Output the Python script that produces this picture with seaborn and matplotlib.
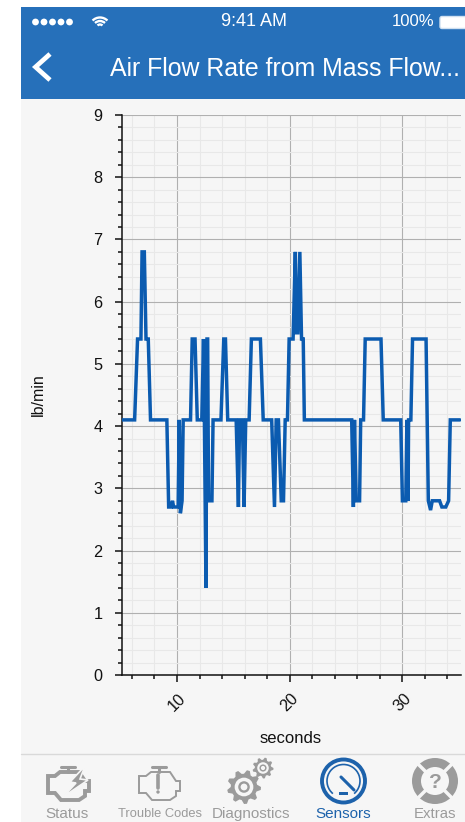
import numpy as np
import pandas as pd
import matplotlib
matplotlib.use("Agg")
import matplotlib.pyplot as plt
import seaborn as sns
from matplotlib.patches import Rectangle, Circle, Wedge, Polygon, FancyBboxPatch, Arc

# Data
seconds = [5.1, 6.24, 6.5, 6.8, 6.9, 7.1, 7.25, 7.45, 7.65, 9.1, 9.26, 9.47, 9.6, 9.7, 10.1,
           10.2, 10.3, 10.45, 10.55, 11.2, 11.35, 11.6, 11.8, 12.2, 12.35, 12.43, 12.57, 12.66,
           12.72, 12.8, 13.1, 13.2, 13.9, 14.15, 14.3, 14.5, 15.25, 15.45, 15.55, 15.8, 15.95,
           16.1, 16.4, 16.6, 17.4, 17.65, 18.4, 18.65, 18.8, 19.0, 19.25, 19.45, 19.6, 19.8,
           19.95, 20.3, 20.5, 20.6, 20.72, 20.9, 21.05, 21.2, 21.3, 25.5, 25.65, 25.75, 25.9,
           26.2, 26.3, 26.55, 26.7, 28.1, 28.3, 29.85, 30.0, 30.3, 30.4, 30.5, 30.55, 30.75,
           30.9, 32.1, 32.3, 32.5, 32.65, 33.3, 33.5, 33.85, 34.1, 34.25, 35.1]
flow_rate = [4.1, 4.1, 5.4, 5.4, 6.8, 6.8, 5.4, 5.4, 4.1, 4.1, 2.7, 2.7, 2.8, 2.7, 2.7,
             4.1, 2.6, 2.8, 4.1, 4.1, 5.4, 5.4, 4.1, 4.1, 5.4, 4.1, 1.4, 5.4,
             5.4, 2.8, 2.8, 4.1, 4.1, 5.4, 5.4, 4.1, 4.1, 2.7, 4.1, 4.1, 2.7,
             4.1, 4.1, 5.4, 5.4, 4.1, 4.1, 2.7, 4.1, 4.1, 2.8, 2.8, 4.1, 4.1,
             5.4, 5.4, 6.8, 5.5, 5.5, 6.8, 5.4, 5.4, 4.1, 4.1, 2.7, 4.1, 2.8,
             2.8, 4.1, 4.1, 5.4, 5.4, 4.1, 4.1, 2.8, 2.8, 4.1, 2.8, 4.1, 4.1,
             5.4, 5.4, 2.8, 2.65, 2.8, 2.8, 2.7, 2.7, 2.8, 4.1, 4.1]
x_ticks = [10, 20, 30]
y_ticks = [0, 1, 2, 3, 4, 5, 6, 7, 8, 9]
tab_names = ["Status", "Trouble Codes", "Diagnostics", "Sensors", "Extras"]

BG = "#f6f6f6"
HEADER = "#2670ba"
LINE = "#0b5bb0"
TAB_GRAY = "#9b9b9b"
TAB_BLUE = "#1d62ab"

W, H = 465, 822
sns.set_style("white")
plt.rcParams["font.family"] = ["Liberation Sans", "DejaVu Sans"]

fig = plt.figure(figsize=(W / 100, H / 100), dpi=100, facecolor="white")

# --------------------------------------------
# App chrome, drawn in pixel coordinates
# --------------------------------------------
ui = fig.add_axes([0, 0, 1, 1], zorder=0)
ui.set_xlim(0, W)
ui.set_ylim(H, 0)
ui.axis("off")

ui.add_patch(Rectangle((21, 7), W - 21, H - 7, color=BG, lw=0))
ui.add_patch(Rectangle((21, 7), W - 21, 92, color=HEADER, lw=0))

# status bar
for cx in [35.5, 44, 52.5, 61, 69.5]:
    ui.add_patch(Circle((cx, 22), 3.4, color="white", lw=0))
for d in [7, 14, 21]:
    ui.add_patch(Arc((100, 28), d, d, theta1=225, theta2=315, color="white", lw=1.7))
ui.text(254, 22, "9:41 AM", color="white", fontsize=13, ha="center", va="center")
ui.text(434, 22, "100%", color="white", fontsize=12, ha="right", va="center")
ui.add_patch(FancyBboxPatch((440, 16.5), 30, 12, boxstyle="round,pad=0,rounding_size=2",
                            fc="white", ec="#cfe0f0", lw=1))

# nav bar
ui.plot([50, 35.5, 50], [54, 67, 80], color="white", lw=3.4, solid_capstyle="butt",
        solid_joinstyle="miter")
ui.text(110, 68.5, "Air Flow Rate from Mass Flow...", color="white", fontsize=17.9,
        ha="left", va="center")

# tab bar
ui.plot([21, W], [753.5, 753.5], color="#d9d9d9", lw=1)
tab_sizes = [11, 9.3, 11, 11, 10.8]
for name, cx, size in zip(tab_names, [67, 160, 251, 343.5, 435], tab_sizes):
    ui.text(cx, 814, name, ha="center", va="center", fontsize=size,
            color=TAB_BLUE if name == "Sensors" else TAB_GRAY)


def gear(cx, cy, r, teeth, color=TAB_GRAY):
    ang = np.linspace(0, 2 * np.pi, teeth * 4, endpoint=False)
    rad = np.tile([r, r, r * 0.78, r * 0.78], teeth)
    pts = np.c_[cx + rad * np.cos(ang), cy + rad * np.sin(ang)]
    ui.add_patch(Polygon(pts, closed=True, fc=color, ec="none"))
    ui.add_patch(Circle((cx, cy), r * 0.55, fc=BG, ec="none"))
    ui.add_patch(Circle((cx, cy), r * 0.34, fc=color, ec="none"))
    ui.add_patch(Circle((cx, cy), r * 0.2, fc=BG, ec="none"))


def engine(ox, oy, lw):
    outline = [(ox + 3, oy + 10), (ox + 10, oy + 10), (ox + 15, oy + 6), (ox + 34, oy + 6),
               (ox + 40, oy + 15), (ox + 44, oy + 15), (ox + 44, oy + 25), (ox + 40, oy + 25),
               (ox + 40, oy + 30), (ox + 34, oy + 34), (ox + 16, oy + 34), (ox + 10, oy + 27),
               (ox + 3, oy + 27)]
    ui.add_patch(Polygon(outline, closed=True, fc="none", ec=TAB_GRAY, lw=lw))
    ui.plot([ox + 16, ox + 30], [oy + 1, oy + 1], color=TAB_GRAY, lw=2.2)
    ui.plot([ox + 23, ox + 23], [oy + 1, oy + 6], color=TAB_GRAY, lw=2.2)


engine(45, 766, 2.8)
ui.add_patch(Polygon([(85, 766), (70, 782), (76, 783), (63, 797), (88, 780), (80, 779)],
                     closed=True, fc=TAB_GRAY, ec=BG, lw=1.2))
engine(136, 766, 1.4)
ui.plot([158, 158], [775, 788], color=TAB_GRAY, lw=2.6)
ui.add_patch(Circle((158, 792), 1.7, color=TAB_GRAY, lw=0))

gear(244, 787, 17, 9)
gear(263, 768, 10.5, 9)

# gauge icon
ui.add_patch(Circle((343.5, 781), 21.5, fc="none", ec=TAB_BLUE, lw=2.8))
ui.add_patch(Arc((343.5, 781), 33, 33, theta1=130, theta2=50, color=TAB_BLUE, lw=1.2))
ui.plot([341, 354], [777, 790], color=TAB_BLUE, lw=2.2)
ui.add_patch(Rectangle((339, 792), 9, 3, color=TAB_BLUE, lw=0))

# help ring icon
ui.add_patch(Wedge((435, 781), 23, 0, 360, width=9, fc=TAB_GRAY, ec="none"))
for a in [45, 135, 225, 315]:
    ui.plot([435 + 12 * np.cos(np.radians(a)), 435 + 25 * np.cos(np.radians(a))],
            [781 + 12 * np.sin(np.radians(a)), 781 + 25 * np.sin(np.radians(a))],
            color=BG, lw=2.5)
ui.text(435, 782, "?", color=TAB_GRAY, fontsize=15, fontweight="bold", ha="center", va="center")

# --------------------------------------------
# Chart
# --------------------------------------------
left, right, top, bottom = 122, 461, 115, 675
ax = fig.add_axes([left / W, 1 - bottom / H, (right - left) / W, (bottom - top) / H], zorder=1)
ax.patch.set_alpha(0)

df = pd.DataFrame({"seconds": seconds, "flow_rate": flow_rate})
sns.lineplot(data=df, x="seconds", y="flow_rate", sort=False, estimator=None, ax=ax,
             color=LINE, linewidth=2.5, solid_joinstyle="miter", clip_on=True, zorder=3)

px_per_sec = 11.27
ax.set_xlim(10 - (177 - left) / px_per_sec, 10 + (right - 177) / px_per_sec)
ax.set_ylim(0, 9)

ax.set_xticks(x_ticks)
ax.set_yticks(y_ticks)
ax.set_xticks([s for s in range(6, 36, 2) if s % 10], minor=True)
ax.set_yticks([v / 5 for v in range(0, 46) if v % 5], minor=True)

ax.set_axisbelow(True)
ax.grid(True, which="major", color="#b0b0b0", lw=0.8)
ax.grid(True, which="minor", color="#e8e8e8", lw=0.8)

for side in ["top", "right"]:
    ax.spines[side].set_visible(False)
for side in ["left", "bottom"]:
    ax.spines[side].set_color("#111111")
    ax.spines[side].set_linewidth(1.1)

ax.tick_params(axis="both", which="major", length=5, width=1.1, color="#111111",
               labelsize=11.7, labelcolor="#111111", bottom=True, left=True)
ax.tick_params(axis="both", which="minor", length=3, width=1.1, color="#111111",
               bottom=True, left=True)
ax.tick_params(axis="y", which="major", pad=9)
ax.tick_params(axis="x", which="major", pad=10)
plt.setp(ax.get_xticklabels(), rotation=45, ha="center", va="center", rotation_mode="anchor")
for lab in ax.get_xticklabels():
    lab.set_y(-0.012)

ax.set_xlabel("")
ax.set_ylabel("")
ui.text(291, 738, "seconds", color="#111111", fontsize=12, ha="center", va="center")
ui.text(38, 395, "lb/min", color="#111111", fontsize=11.5, rotation=90, ha="center", va="center")

fig.savefig("out.png", dpi=100)
